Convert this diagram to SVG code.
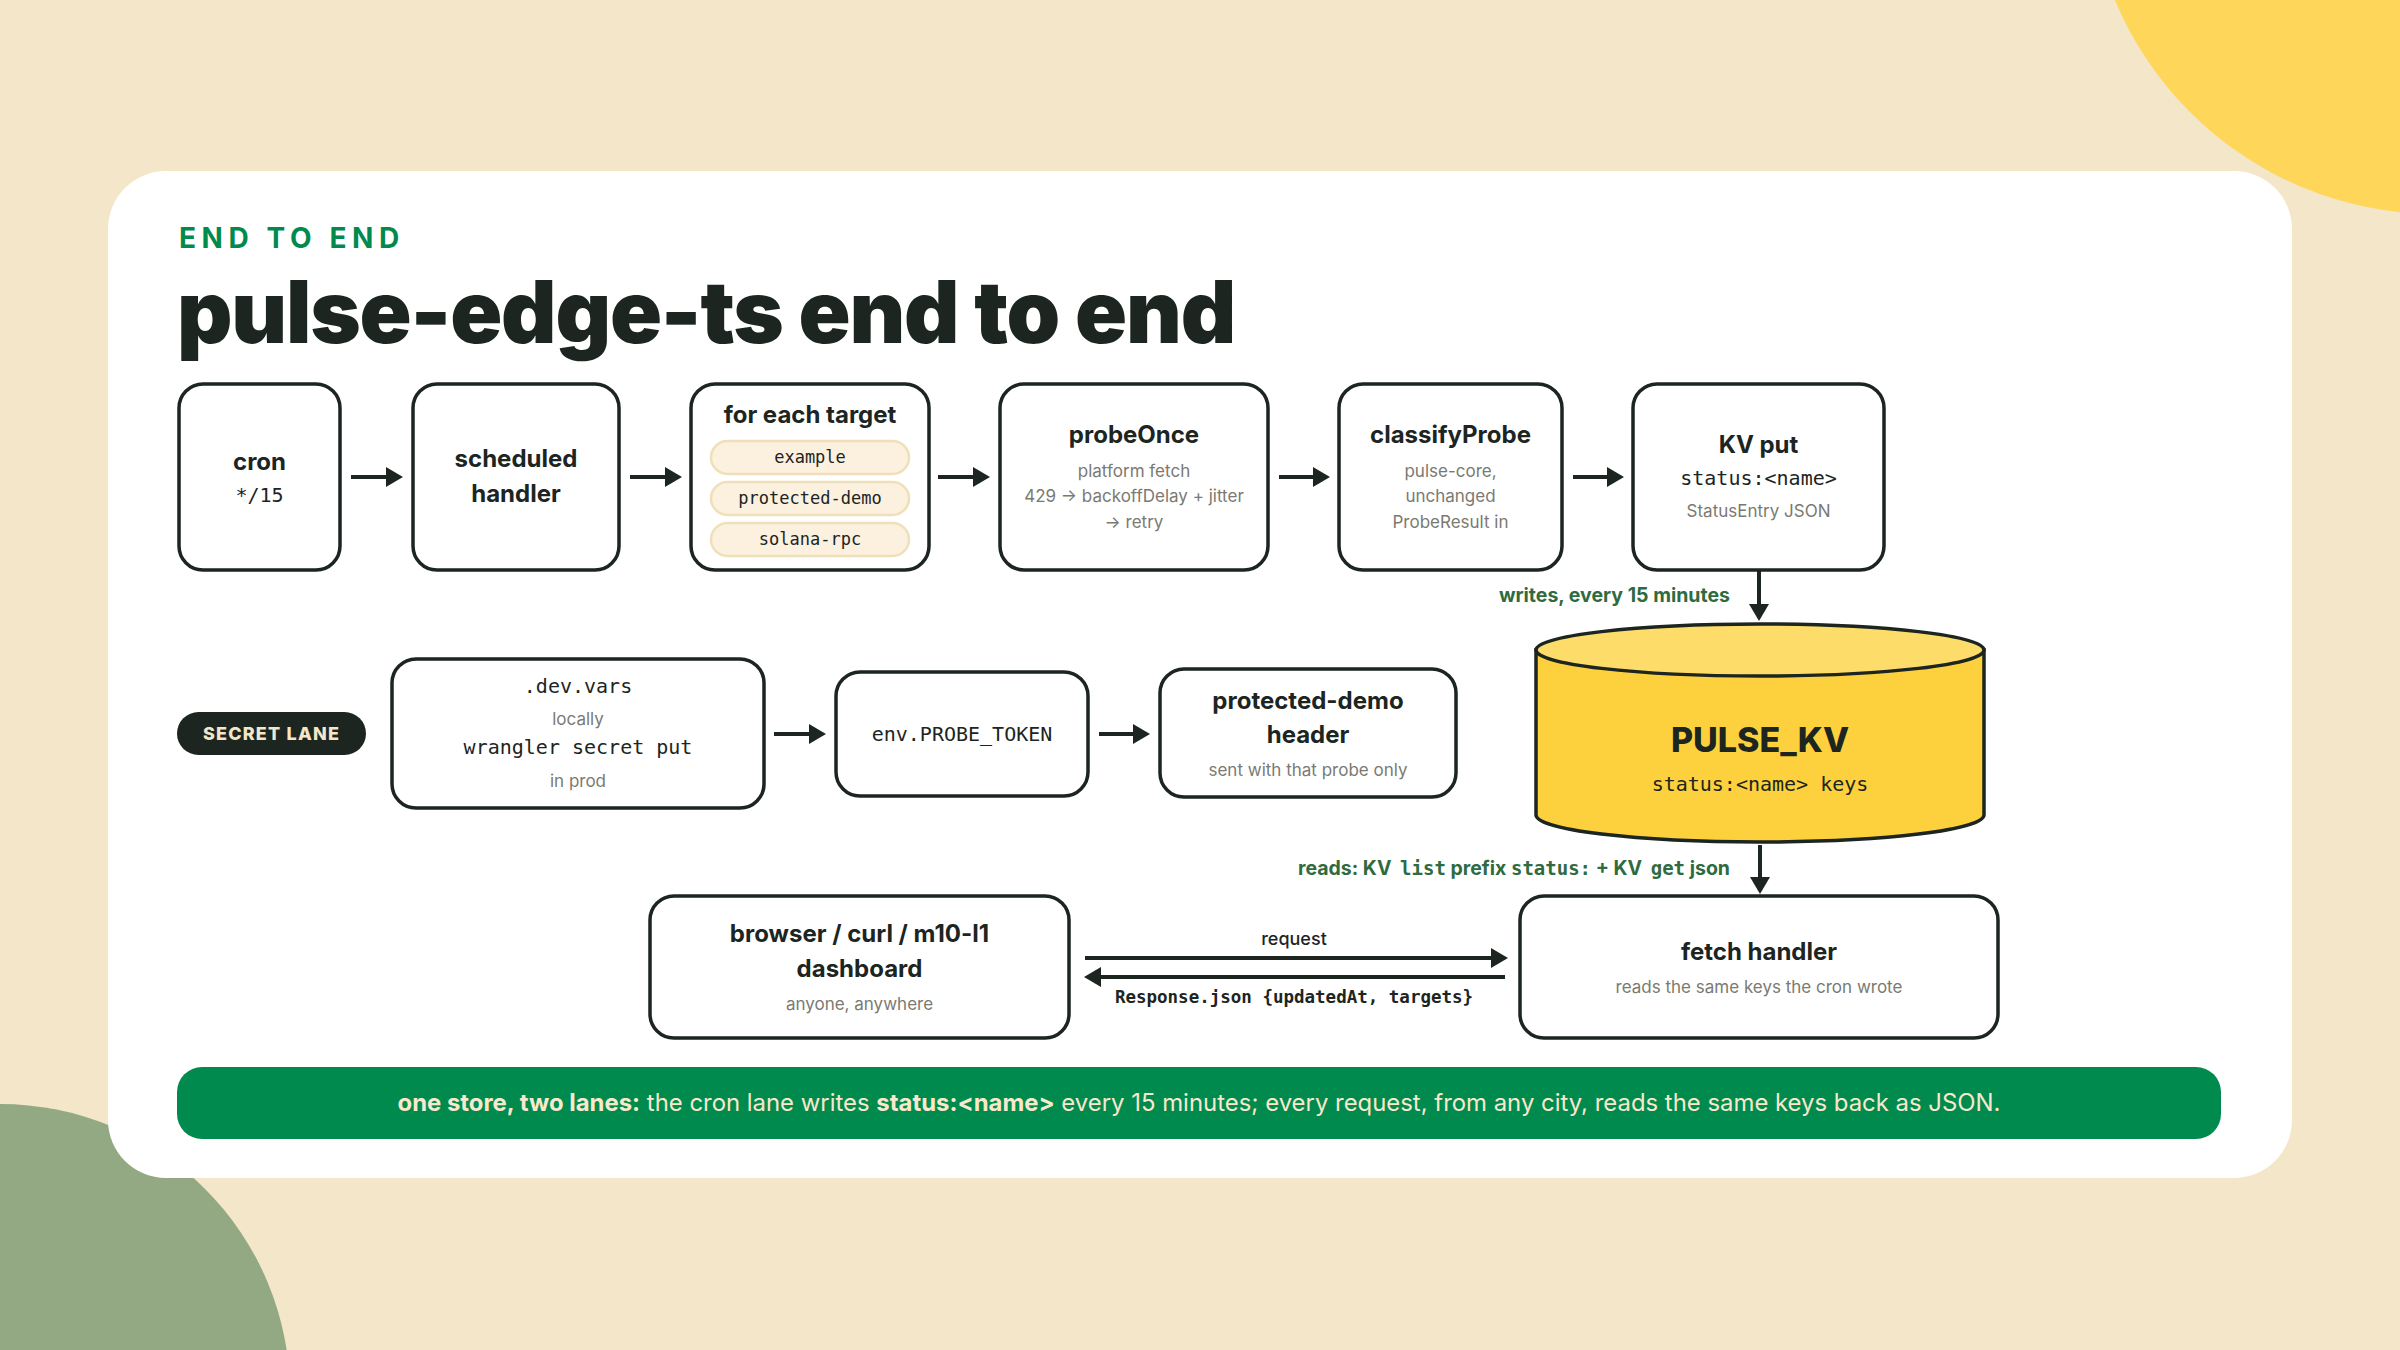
<svg xmlns="http://www.w3.org/2000/svg" width="2400" height="1350" viewBox="0 0 2400 1350">
<defs>
<style>
.node{fill:#ffffff;stroke:#1c251f;stroke-width:3.5}
.t{font-family:Inter,"Liberation Sans",sans-serif;font-weight:700;font-size:24px;fill:#1c251f;text-anchor:middle}
.big{font-family:Inter,"Liberation Sans",sans-serif;font-weight:800;font-size:34px;fill:#1c251f;text-anchor:middle}
.s{font-family:Inter,"Liberation Sans",sans-serif;font-weight:400;font-size:17px;fill:#7a7a72;text-anchor:middle}
.m{font-family:"DejaVu Sans Mono","Liberation Mono",monospace;font-size:20px;fill:#1c251f;text-anchor:middle}
.pill{fill:#fbf1de;stroke:#efe0b9;stroke-width:2.5}
.pm{font-family:"DejaVu Sans Mono","Liberation Mono",monospace;font-size:17px;fill:#1c251f;text-anchor:middle}
.edge{stroke:#1c251f;stroke-width:4;fill:none}
.lbl{font-family:Inter,"Liberation Sans",sans-serif;font-weight:700;font-size:19.5px;fill:#2f6b3f}
.lblm{font-family:"DejaVu Sans Mono","Liberation Mono",monospace;font-weight:700;font-size:19px;fill:#2f6b3f}
</style>
<marker id="ah" markerUnits="userSpaceOnUse" markerWidth="18" markerHeight="20" refX="8" refY="10" orient="auto">
<path d="M0,0 L17,10 L0,20 Z" fill="#1c251f"/>
</marker>
</defs>
<rect x="0" y="0" width="2400" height="1350" fill="#f4e6c9"/>
<circle cx="2436" cy="-134" r="348" fill="#fed75a"/>
<circle cx="0" cy="1394" r="290" fill="#93a984"/>
<rect x="108" y="171" width="2184" height="1007" rx="58" fill="#ffffff"/>
<text x="179" y="248" font-family="Inter,'Liberation Sans',sans-serif" font-weight="700" font-size="28" letter-spacing="5.6" fill="#008a4e">END TO END</text>
<text x="177" y="343" font-family="Inter,'Liberation Sans',sans-serif" font-weight="900" font-size="86" letter-spacing="-1.2" fill="#1c251f">pulse-edge-ts end to end</text>
<g id="connectors">
<path class="edge" d="M351,477 H394" marker-end="url(#ah)"/>
<path class="edge" d="M630,477 H673" marker-end="url(#ah)"/>
<path class="edge" d="M938,477 H981" marker-end="url(#ah)"/>
<path class="edge" d="M1279,477 H1321" marker-end="url(#ah)"/>
<path class="edge" d="M1573,477 H1615" marker-end="url(#ah)"/>
<path class="edge" d="M1759,571 V612" marker-end="url(#ah)"/>
<text class="lbl" x="1730" y="602" text-anchor="end">writes, every 15 minutes</text>
<path class="edge" d="M1760,845 V885" marker-end="url(#ah)"/>
<text x="1730" y="875" text-anchor="end"><tspan class="lbl">reads: KV </tspan><tspan class="lblm" dx="4">list</tspan><tspan class="lbl"> prefix </tspan><tspan class="lblm">status:</tspan><tspan class="lbl"> + KV </tspan><tspan class="lblm" dx="4">get</tspan><tspan class="lbl"> json</tspan></text>
<path class="edge" d="M774,734 H817" marker-end="url(#ah)"/>
<path class="edge" d="M1099,734 H1141" marker-end="url(#ah)"/>
<path class="edge" d="M1085,958 H1499" marker-end="url(#ah)"/>
<text x="1294" y="945" font-family="Inter,'Liberation Sans',sans-serif" font-weight="500" font-size="18" fill="#1c251f" text-anchor="middle">request</text>
<path class="edge" d="M1505,977 H1093" marker-end="url(#ah)"/>
<text x="1294" y="1003" font-family="'DejaVu Sans Mono','Liberation Mono',monospace" font-weight="700" font-size="17.5" fill="#1c251f" text-anchor="middle">Response.json {updatedAt, targets}</text>
</g>
<g id="cron">
<rect class="node" x="179" y="384" width="161" height="186" rx="24"/>
<text class="t" x="259.5" y="470">cron</text>
<text class="m" x="259.5" y="502">*/15</text>
</g>
<g id="scheduled-handler">
<rect class="node" x="413" y="384" width="206" height="186" rx="24"/>
<text class="t" x="516" y="467">scheduled</text>
<text class="t" x="516" y="502">handler</text>
</g>
<g id="for-each-target">
<rect class="node" x="691" y="384" width="238" height="186" rx="24"/>
<text class="t" x="810" y="423">for each target</text>
<rect class="pill" x="711" y="441" width="198" height="33" rx="16.5"/>
<text class="pm" x="810" y="463">example</text>
<rect class="pill" x="711" y="482" width="198" height="33" rx="16.5"/>
<text class="pm" x="810" y="504">protected-demo</text>
<rect class="pill" x="711" y="523" width="198" height="33" rx="16.5"/>
<text class="pm" x="810" y="545">solana-rpc</text>
</g>
<g id="probeOnce">
<rect class="node" x="1000" y="384" width="268" height="186" rx="24"/>
<text class="t" x="1134" y="443">probeOnce</text>
<text class="s" x="1134" y="477">platform fetch</text>
<text class="s" x="1134" y="502">429 → backoffDelay + jitter</text>
<text class="s" x="1134" y="528">→ retry</text>
</g>
<g id="classifyProbe">
<rect class="node" x="1339" y="384" width="223" height="186" rx="24"/>
<text class="t" x="1450.5" y="443">classifyProbe</text>
<text class="s" x="1450.5" y="477">pulse-core,</text>
<text class="s" x="1450.5" y="502">unchanged</text>
<text class="s" x="1450.5" y="528">ProbeResult in</text>
</g>
<g id="kv-put">
<rect class="node" x="1633" y="384" width="251" height="186" rx="24"/>
<text class="t" x="1758.5" y="453">KV put</text>
<text class="m" x="1758.5" y="485">status:&lt;name&gt;</text>
<text class="s" x="1758.5" y="517">StatusEntry JSON</text>
</g>
<g id="pulse-kv">
<path d="M1536,650 V815 A224,27 0 0 0 1984,815 V650 Z" fill="#fdd13e" stroke="#1c251f" stroke-width="3.5"/>
<ellipse cx="1760" cy="650" rx="224" ry="26" fill="#fedc6a" stroke="#1c251f" stroke-width="3.5"/>
<text class="big" x="1760" y="752">PULSE_KV</text>
<text class="m" x="1760" y="791">status:&lt;name&gt; keys</text>
</g>
<g id="secret-lane">
<rect x="177" y="712" width="189" height="43" rx="21.5" fill="#1c251f"/>
<text x="271.5" y="740" font-family="Inter,'Liberation Sans',sans-serif" font-weight="800" font-size="18" letter-spacing="1.2" fill="#f4e6c9" text-anchor="middle">SECRET LANE</text>
</g>
<g id="dev-vars">
<rect class="node" x="392" y="659" width="372" height="149" rx="24"/>
<text class="m" x="578" y="693">.dev.vars</text>
<text class="s" x="578" y="725">locally</text>
<text class="m" x="578" y="754">wrangler secret put</text>
<text class="s" x="578" y="787">in prod</text>
</g>
<g id="env-probe-token">
<rect class="node" x="836" y="672" width="252" height="124" rx="24"/>
<text class="m" x="962" y="741">env.PROBE_TOKEN</text>
</g>
<g id="protected-demo-header">
<rect class="node" x="1160" y="669" width="296" height="128" rx="24"/>
<text class="t" x="1308" y="709">protected-demo</text>
<text class="t" x="1308" y="743">header</text>
<text class="s" x="1308" y="776">sent with that probe only</text>
</g>
<g id="browser">
<rect class="node" x="650" y="896" width="419" height="142" rx="24"/>
<text class="t" x="859.5" y="942">browser / curl / m10-l1</text>
<text class="t" x="859.5" y="977">dashboard</text>
<text class="s" x="859.5" y="1010">anyone, anywhere</text>
</g>
<g id="fetch-handler">
<rect class="node" x="1520" y="896" width="478" height="142" rx="24"/>
<text class="t" x="1759" y="960">fetch handler</text>
<text class="s" x="1759" y="993">reads the same keys the cron wrote</text>
</g>
<g id="summary">
<rect x="177" y="1067" width="2044" height="72" rx="25" fill="#008a4e"/>
<text x="1199" y="1111" font-family="Inter,'Liberation Sans',sans-serif" font-size="23.9" fill="#f8e8cc" text-anchor="middle"><tspan font-weight="700">one store, two lanes:</tspan> the cron lane writes <tspan font-weight="700">status:&lt;name&gt;</tspan> every 15 minutes; every request, from any city, reads the same keys back as JSON.</text>
</g>
</svg>
